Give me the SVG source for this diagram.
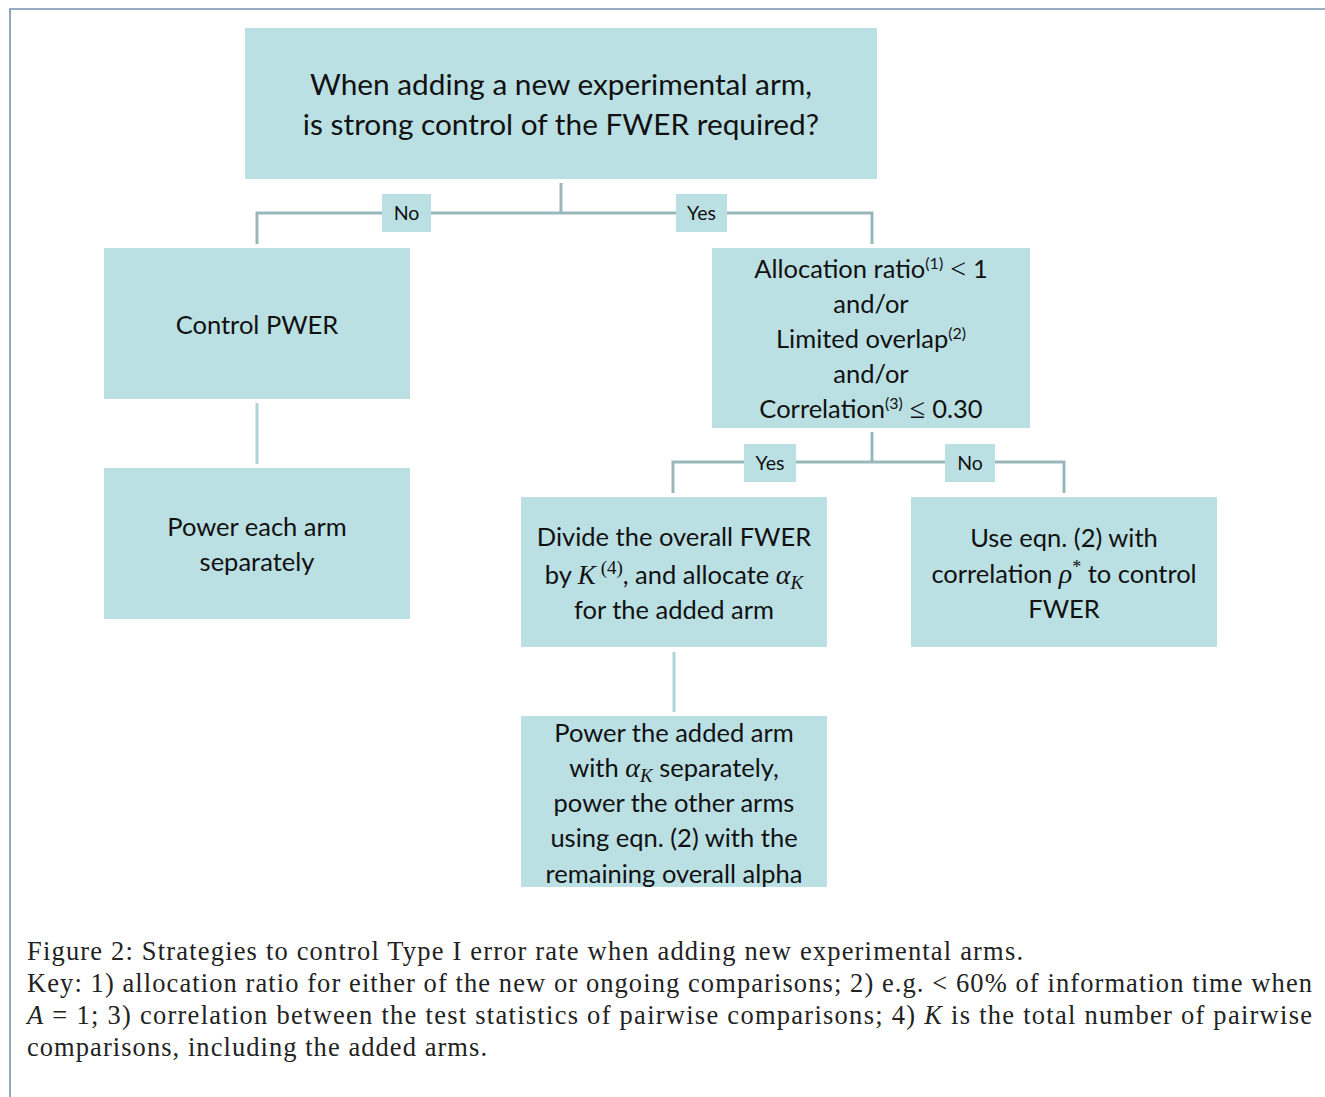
<svg xmlns="http://www.w3.org/2000/svg" width="1325" height="1097" viewBox="0 0 1325 1097">
<style>
.box{fill:#bae0e3}
.t{font-family:Lato,"Liberation Sans",sans-serif;fill:#111;text-anchor:middle}
.m{font-family:"Liberation Serif",serif;font-style:italic}
.mr{font-family:"Liberation Serif",serif}
.c1{stroke:#99b7ba;stroke-width:3;fill:none}
.c2{stroke:#acd4d8;stroke-width:3;fill:none}
.cap{font-family:"Liberation Serif",serif;font-size:26.5px;fill:#222}
</style>
<rect width="1325" height="1097" fill="#fff"/>
<path d="M10 1097 V9 H1325" stroke="#7592ae" stroke-width="1.6" fill="none"/>
<g id="connectors">
<path class="c1" d="M561 183 V213 M257 244 V213 H872 V244"/>
<path class="c1" d="M872 432 V462 M673 493 V462 H1064 V493"/>
<path class="c2" d="M257 403 V464"/>
<path class="c2" d="M674 652 V712"/>
</g>
<g id="label-no-1"><rect class="box" x="382" y="194" width="49" height="38"/><text class="t" x="406.5" y="220" font-size="19.5">No</text></g>
<g id="label-yes-1"><rect class="box" x="676" y="194" width="51" height="38"/><text class="t" x="701.5" y="220" font-size="19.5">Yes</text></g>
<g id="label-yes-2"><rect class="box" x="744" y="444" width="52" height="38"/><text class="t" x="770" y="470" font-size="19.5">Yes</text></g>
<g id="label-no-2"><rect class="box" x="945" y="444" width="50" height="38"/><text class="t" x="970" y="470" font-size="19.5">No</text></g>
<g id="node-top">
<rect class="box" x="245" y="28" width="632" height="151"/>
<text class="t" x="561" y="95" font-size="29.8">When adding a new experimental arm,</text>
<text class="t" x="561" y="135" font-size="29.8">is strong control of the FWER required?</text>
</g>
<g id="node-pwer">
<rect class="box" x="104" y="248" width="306" height="151"/>
<text class="t" x="257" y="334" font-size="25.5">Control PWER</text>
</g>
<g id="node-power-each">
<rect class="box" x="104" y="468" width="306" height="151"/>
<text class="t" x="257" y="536" font-size="25.5">Power each arm</text>
<text class="t" x="257" y="571" font-size="25.5">separately</text>
</g>
<g id="node-allocation">
<rect class="box" x="712" y="248" width="318" height="180"/>
<text class="t" x="871" y="278" font-size="25.5">Allocation ratio<tspan font-size="16" dy="-9">(1)</tspan><tspan dy="9" class="mr" font-size="28"> &lt; </tspan><tspan>1</tspan></text>
<text class="t" x="871" y="313" font-size="25.5">and/or</text>
<text class="t" x="871" y="348" font-size="25.5">Limited overlap<tspan font-size="16" dy="-9">(2)</tspan></text>
<text class="t" x="871" y="383" font-size="25.5">and/or</text>
<text class="t" x="871" y="418" font-size="25.5">Correlation<tspan font-size="16" dy="-9">(3)</tspan><tspan dy="9" class="mr" font-size="28"> ≤ </tspan><tspan>0.30</tspan></text>
</g>
<g id="node-divide">
<rect class="box" x="521" y="497" width="306" height="150"/>
<text class="t" x="674" y="546" font-size="25.5">Divide the overall FWER</text>
<text class="t" x="674" y="584" font-size="25.5">by <tspan class="m" font-size="27">K</tspan><tspan class="mr" font-size="19" dy="-10"> (4)</tspan><tspan dy="10">, and allocate  </tspan><tspan class="m" font-size="28">α</tspan><tspan class="m" font-size="19" dy="5">K</tspan></text>
<text class="t" x="674" y="619" font-size="25.5">for the added arm</text>
</g>
<g id="node-use-eqn">
<rect class="box" x="911" y="497" width="306" height="150"/>
<text class="t" x="1064" y="547" font-size="25.5">Use eqn. (2) with</text>
<text class="t" x="1064" y="583" font-size="25.5">correlation <tspan class="m" font-size="28">ρ</tspan><tspan class="mr" font-size="18" dy="-10">*</tspan><tspan dy="10"> to control</tspan></text>
<text class="t" x="1064" y="618" font-size="25.5">FWER</text>
</g>
<g id="node-power-added">
<rect class="box" x="521" y="716" width="306" height="171"/>
<text class="t" x="674" y="742" font-size="25.5">Power the added arm</text>
<text class="t" x="674" y="777" font-size="25.5">with <tspan class="m" font-size="28">α</tspan><tspan class="m" font-size="19" dy="5">K</tspan><tspan dy="-5"> separately,</tspan></text>
<text class="t" x="674" y="812" font-size="25.5">power the other arms</text>
<text class="t" x="674" y="847" font-size="25.5">using eqn. (2) with the</text>
<text class="t" x="674" y="883" font-size="25.5">remaining overall alpha</text>
</g>
<g id="caption">
<text class="cap" x="27" y="960" textLength="996" lengthAdjust="spacing">Figure 2: Strategies to control Type I error rate when adding new experimental arms.</text>
<text class="cap" x="27" y="992" textLength="1285" lengthAdjust="spacing">Key: 1) allocation ratio for either of the new or ongoing comparisons; 2) e.g. &lt; 60% of information time when</text>
<text class="cap" x="27" y="1024" textLength="1285" lengthAdjust="spacing"><tspan font-style="italic">A</tspan> = 1; 3) correlation between the test statistics of pairwise comparisons; 4) <tspan font-style="italic">K</tspan> is the total number of pairwise</text>
<text class="cap" x="27" y="1056" textLength="460" lengthAdjust="spacing">comparisons, including the added arms.</text>
</g>
</svg>
